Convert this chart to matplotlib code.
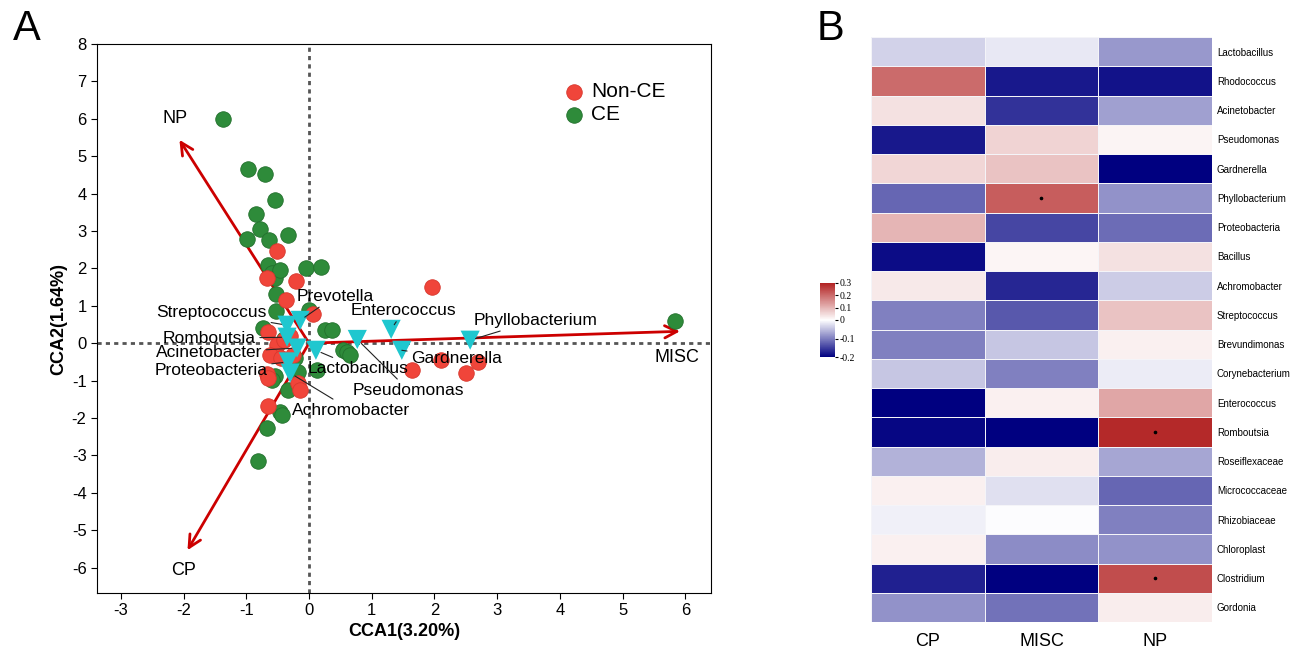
import numpy as np
import matplotlib
matplotlib.use("Agg")
import matplotlib.pyplot as plt
from matplotlib.colors import LinearSegmentedColormap, TwoSlopeNorm

plt.rcParams['font.family'] = ['Liberation Sans', 'DejaVu Sans']
plt.rcParams['axes.unicode_minus'] = False

# ---- panel A data ----
ce_x = [-1.37, -0.97, -0.70, -0.54, -0.85, -0.78, -0.99, -0.33, -0.64, -0.65, -0.05, 0.19,
        -0.59, -0.54, -0.46, -0.53, -0.53, -0.73, 0.26, 0.37, 0.54, 0.61, 0.66, -0.54,
        -0.59, -0.33, -0.46, -0.43, -0.67, -0.81, 5.84, 0.13, -0.18, -0.40, -0.22, 0.00]
ce_y = [5.99, 4.65, 4.52, 3.82, 3.45, 3.05, 2.78, 2.89, 2.75, 2.09, 2.00, 2.03,
        1.87, 1.74, 1.95, 1.31, 0.86, 0.40, 0.35, 0.35, -0.19, -0.24, -0.32, -0.88,
        -0.98, -1.26, -1.84, -1.92, -2.27, -3.16, 0.59, -0.72, -0.78, 0.10, -0.40, 0.90]
nonce_x = [1.96, -0.51, -0.67, -0.21, -0.37, 0.06, -0.65, -0.51, -0.62, -0.45, -0.26,
           -0.67, -0.65, -0.18, -0.14, -0.65, 1.64, 2.50, 2.70, 2.10, -0.40, -0.30]
nonce_y = [1.50, 2.46, 1.74, 1.66, 1.15, 0.78, 0.30, -0.05, -0.32, -0.40, -0.32,
           -0.83, -0.94, -1.07, -1.26, -1.68, -0.72, -0.80, -0.51, -0.45, 0.08, 0.19]

species = ['Streptococcus', 'Prevotella', 'Romboutsia', 'Acinetobacter', 'Lactobacillus',
           'Proteobacteria', 'Achromobacter', 'Pseudomonas', 'Enterococcus', 'Gardnerella',
           'Phyllobacterium']
sp_x = [-0.35, -0.14, -0.35, -0.19, 0.11, -0.33, -0.30, 0.77, 1.31, 1.48, 2.57]
sp_y = [0.48, 0.61, 0.16, -0.13, -0.19, -0.50, -0.80, 0.10, 0.37, -0.19, 0.08]
# label anchor (data coords) and alignment
lab_x = [-0.67, -0.20, -0.85, -0.75, -0.02, -0.66, -0.27, 0.70, 0.67, 1.63, 2.62]
lab_y = [0.82, 1.26, 0.13, -0.26, -0.67, -0.74, -1.79, -1.26, 0.88, -0.40, 0.61]
lab_ha = ['right', 'left', 'right', 'right', 'left', 'right', 'left', 'left', 'left', 'left', 'left']

env = ['NP', 'CP', 'MISC']
env_x = [-2.09, -1.96, 5.96]
env_y = [5.50, -5.60, 0.32]
env_lab_x = [-2.14, -2.00, 5.87]
env_lab_y = [6.00, -6.07, -0.37]

# ---- panel B data ----
rows = ['Lactobacillus', 'Rhodococcus', 'Acinetobacter', 'Pseudomonas', 'Gardnerella',
        'Phyllobacterium', 'Proteobacteria', 'Bacillus', 'Achromobacter', 'Streptococcus',
        'Brevundimonas', 'Corynebacterium', 'Enterococcus', 'Romboutsia', 'Roseiflexaceae',
        'Micrococcaceae', 'Rhizobiaceae', 'Chloroplast', 'Clostridium', 'Gordonia']
cols = ['CP', 'MISC', 'NP']
corr = np.array([
    [-0.035, -0.018, -0.080],
    [0.200, -0.180, -0.185],
    [0.040, -0.160, -0.075],
    [-0.180, 0.060, 0.015],
    [0.055, 0.080, -0.200],
    [-0.120, 0.220, -0.085],
    [0.100, -0.145, -0.115],
    [-0.190, 0.012, 0.040],
    [0.030, -0.170, -0.040],
    [-0.100, -0.130, 0.080],
    [-0.100, -0.045, 0.020],
    [-0.045, -0.100, -0.015],
    [-0.200, 0.020, 0.120],
    [-0.195, -0.200, 0.290],
    [-0.060, 0.025, -0.070],
    [0.020, -0.025, -0.120],
    [-0.012, -0.003, -0.100],
    [0.020, -0.090, -0.085],
    [-0.175, -0.200, 0.240],
    [-0.085, -0.110, 0.025],
])
signif = [(5, 1), (13, 2), (18, 2)]
cb_ticks = [0.3, 0.2, 0.1, 0, -0.1, -0.2]
cb_labels = ['0.3', '0.2', '0.1', '0', '-0.1', '-0.2']

fig = plt.figure(figsize=(12.92, 6.51), dpi=100)

# ---------- A ----------
ax = fig.add_axes([0.0751, 0.0891, 0.4752, 0.8433])
ax.set_xlim(-3.38, 6.41)
ax.set_ylim(-6.68, 8.0)
ax.axhline(0, color='#555555', ls=(0, (1.5, 1.5)), lw=2, zorder=1)
ax.axvline(0, color='#555555', ls=(0, (1.5, 1.5)), lw=2, zorder=1)

for i in range(len(env)):
    ax.annotate('', xy=(env_x[i], env_y[i]), xytext=(0, 0),
                arrowprops=dict(arrowstyle='->', color='#cc0000', lw=2, mutation_scale=22),
                zorder=2)
    ax.text(env_lab_x[i], env_lab_y[i], env[i], fontsize=13, ha='center', va='center', zorder=5)

ax.scatter(ce_x, ce_y, s=125, color='#2e8b3a', edgecolor='#23702d', lw=0.6, zorder=3, label='CE')
ax.scatter(nonce_x, nonce_y, s=125, color='#f0453a', edgecolor='#d8382e', lw=0.6, zorder=3, label='Non-CE')
ax.scatter(sp_x, sp_y, s=190, marker='v', color='#1fc7cf', edgecolor='none', zorder=4)

for i in range(len(species)):
    ax.annotate(species[i], xy=(sp_x[i], sp_y[i]), xytext=(lab_x[i], lab_y[i]),
                fontsize=12.5, ha=lab_ha[i], va='center', zorder=5,
                arrowprops=dict(arrowstyle='-', color='#222222', lw=0.8, shrinkA=1, shrinkB=4))

ax.set_xticks(np.arange(-3, 7, 1))
ax.set_yticks(np.arange(-6, 9, 1))
ax.tick_params(labelsize=12, direction='out', length=4)
ax.set_xlabel('CCA1(3.20%)', fontsize=13, fontweight='bold', labelpad=3)
ax.set_ylabel('CCA2(1.64%)', fontsize=13, fontweight='bold', labelpad=3)
h, l = ax.get_legend_handles_labels()
ax.legend(h[::-1], l[::-1], loc='upper left', bbox_to_anchor=(0.73, 0.965), frameon=False,
          fontsize=15, handlelength=1.0, handletextpad=0.3, labelspacing=0.2, markerscale=1.0)
fig.text(0.021, 0.955, 'A', fontsize=30, ha='center', va='center')

# ---------- B ----------
cmap = LinearSegmentedColormap.from_list('bwr2', ['#000080', '#ffffff', '#b22222'])
norm = TwoSlopeNorm(vmin=-0.2, vcenter=0, vmax=0.3)
bx = fig.add_axes([0.6741, 0.0445, 0.264, 0.8986])
mesh = bx.pcolormesh(corr, cmap=cmap, norm=norm, edgecolor='#f4f4f8', lw=0.5)
bx.set_xlim(0, len(cols))
bx.set_ylim(len(rows), 0)
for r, c in signif:
    bx.plot(c + 0.5, r + 0.5, marker='o', ms=1.6, color='black')
bx.set_xticks(np.arange(len(cols)) + 0.5)
bx.set_xticklabels(cols, fontsize=13)
bx.set_yticks(np.arange(len(rows)) + 0.5)
bx.set_yticklabels(rows, fontsize=7)
bx.yaxis.tick_right()
bx.tick_params(axis='y', length=0, pad=3.5)
bx.tick_params(axis='x', length=0, pad=8)
for s in bx.spines.values():
    s.set_visible(False)
fig.text(0.643, 0.955, 'B', fontsize=30, ha='center', va='center')

cax = fig.add_axes([0.6347, 0.4516, 0.0116, 0.1137])
cb = fig.colorbar(mesh, cax=cax, ticks=cb_ticks)
cb.ax.set_yticklabels(cb_labels)
cb.outline.set_visible(False)
cb.ax.tick_params(labelsize=7, length=2, pad=1)
for t in cb.ax.get_yticklabels():
    t.set_family('Liberation Serif')

fig.savefig('out.png', dpi=100)
